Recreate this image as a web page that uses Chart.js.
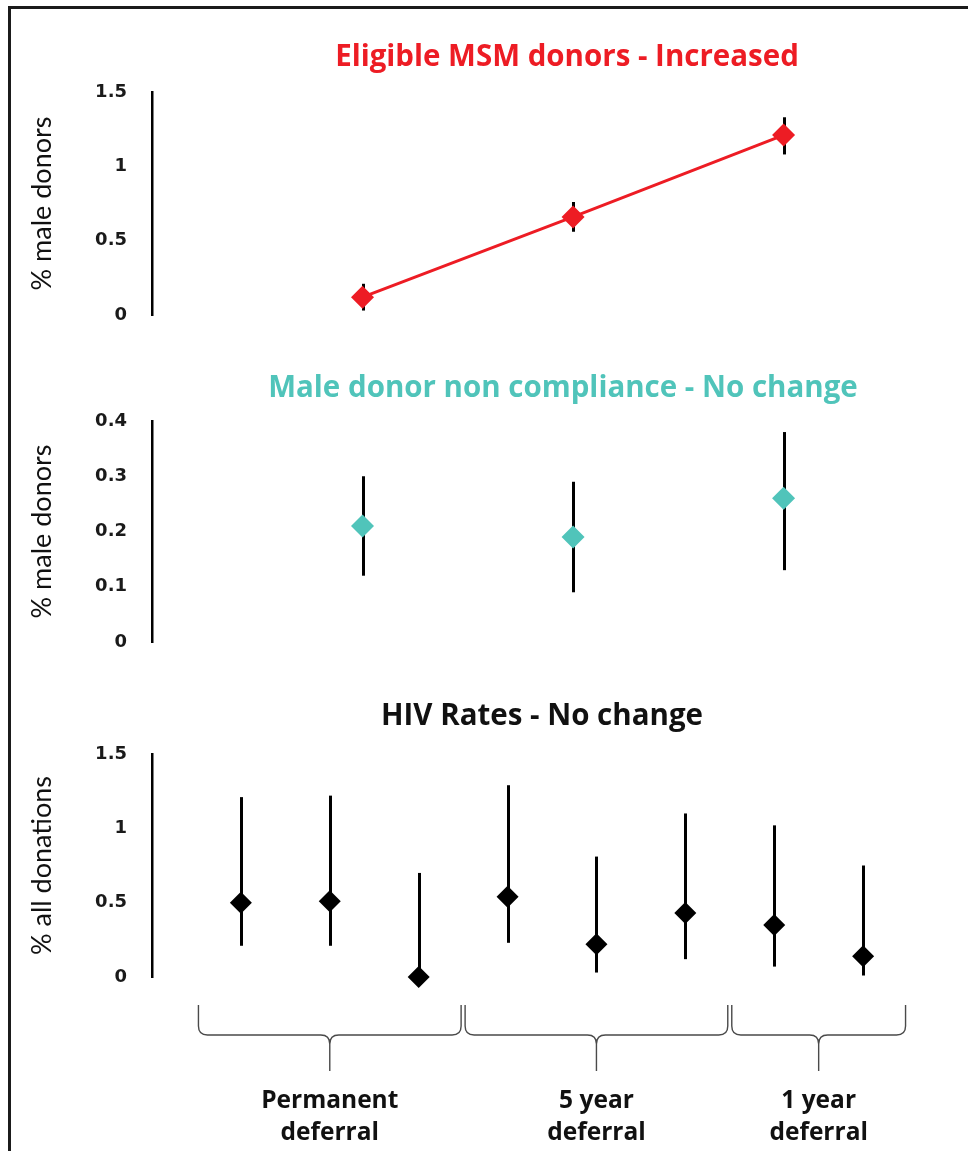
<!DOCTYPE html>
<html>
<head>
<meta charset="utf-8">
<script src="https://cdn.jsdelivr.net/npm/chart.js@4.4.1/dist/chart.umd.min.js"></script>
<style>
  html, body { margin: 0; padding: 0; background: #fff; }
  #wrap { position: relative; width: 968px; height: 1151px; overflow: hidden; background: #fff; }
  #frame { position: absolute; left: 8px; top: 6px; width: 980px; height: 1200px;
           border-left: 3px solid #1b1b1b; border-top: 3px solid #1b1b1b; }
  canvas { position: absolute; left: 0; }
</style>
</head>
<body>
<div id="wrap">
  <div id="frame"></div>
  <canvas id="msmChart" width="968" height="340" style="top:0px;width:968px;height:340px"></canvas>
  <canvas id="complianceChart" width="968" height="330" style="top:340px;width:968px;height:330px"></canvas>
  <canvas id="hivChart" width="968" height="481" style="top:670px;width:968px;height:481px"></canvas>
</div>
<script>
// Deferral periods (permanent, 5 year, 1 year) placed along the x axis
const periodPositions = [1, 2, 3];

// Eligible MSM donors (% of male donors)
const msmValues = [0.12, 0.66, 1.21];
const msmLow    = [0.03, 0.56, 1.08];
const msmHigh   = [0.21, 0.76, 1.33];

// Male donor non compliance (% of male donors)
const complianceValues = [0.21, 0.19, 0.26];
const complianceLow    = [0.12, 0.09, 0.13];
const complianceHigh   = [0.30, 0.29, 0.38];

// HIV rates per study (% of all donations)
const hivPositions = [1, 2, 3, 4, 5, 6, 7, 8];
const hivValues = [0.50, 0.51, 0.00, 0.54, 0.22, 0.43, 0.35, 0.14];
const hivLow    = [0.21, 0.21, 0.00, 0.23, 0.03, 0.12, 0.07, 0.01];
const hivHigh   = [1.21, 1.22, 0.70, 1.29, 0.81, 1.10, 1.02, 0.75];

// Deferral groups below the HIV panel: [first position, last position]
const groupRanges = [[1, 3], [4, 6], [7, 8]];
const groupLabels = [["Permanent", "deferral"], ["5 year", "deferral"], ["1 year", "deferral"]];

// Tick values
const msmTicks = [0, 0.5, 1, 1.5];
const complianceTicks = [0, 0.1, 0.2, 0.3, 0.4];
const hivTicks = [0, 0.5, 1, 1.5];

const RED = '#ED1C24';
const TEAL = '#50C4BA';
const INK = '#111111';

function points(xs, ys, lo, hi) {
  return xs.map((x, i) => ({ x: x, y: ys[i], yMin: lo[i], yMax: hi[i] }));
}

// Vertical error bars drawn beneath the markers
const errorBars = {
  id: 'errorBars',
  beforeDatasetsDraw(chart, args, opts) {
    const { ctx, scales: { x, y } } = chart;
    ctx.save();
    ctx.strokeStyle = opts.color || '#000';
    ctx.lineWidth = opts.width || 3;
    ctx.lineCap = 'butt';
    chart.data.datasets.forEach(ds => {
      ds.data.forEach(pt => {
        const px = Math.round(x.getPixelForValue(pt.x)) + 0.5;
        ctx.beginPath();
        ctx.moveTo(px, y.getPixelForValue(pt.yMax));
        ctx.lineTo(px, y.getPixelForValue(pt.yMin));
        ctx.stroke();
      });
    });
    ctx.restore();
  }
};

// Panel heading
const panelTitle = {
  id: 'panelTitle',
  afterDraw(chart, args, opts) {
    if (!opts.text) return;
    const ctx = chart.ctx;
    ctx.save();
    ctx.font = opts.font;
    ctx.fillStyle = opts.color;
    ctx.textAlign = 'center';
    ctx.textBaseline = 'middle';
    ctx.fillText(opts.text, opts.x, opts.y);
    ctx.restore();
  }
};

// Curly braces grouping the studies by deferral period
const groupBraces = {
  id: 'groupBraces',
  afterDraw(chart, args, opts) {
    if (!opts.ranges) return;
    const { ctx, chartArea, scales: { x } } = chart;
    const yTop = chartArea.bottom + opts.top;
    const yMid = chartArea.bottom + opts.mid;
    const yTip = chartArea.bottom + opts.tip;
    const r = 9;
    ctx.save();
    ctx.strokeStyle = opts.color;
    ctx.lineWidth = opts.width;
    opts.ranges.forEach(([a, b]) => {
      const xa = x.getPixelForValue(a - 0.5) + 2;
      const xb = x.getPixelForValue(b + 0.5) - 2;
      const xc = x.getPixelForValue((a + b) / 2);
      ctx.beginPath();
      ctx.moveTo(xa, yTop);
      ctx.lineTo(xa, yMid - r);
      ctx.quadraticCurveTo(xa, yMid, xa + r, yMid);
      ctx.lineTo(xc - r, yMid);
      ctx.quadraticCurveTo(xc, yMid, xc, yMid + r);
      ctx.lineTo(xc, yTip);
      ctx.moveTo(xb, yTop);
      ctx.lineTo(xb, yMid - r);
      ctx.quadraticCurveTo(xb, yMid, xb - r, yMid);
      ctx.lineTo(xc + r, yMid);
      ctx.quadraticCurveTo(xc, yMid, xc, yMid + r);
      ctx.stroke();
    });
    ctx.restore();
  }
};

function yAxis(title, ticks) {
  return {
    type: 'linear',
    min: ticks[0],
    max: ticks[ticks.length - 1],
    afterFit(axis) { axis.width = 152; },
    afterBuildTicks(axis) { axis.ticks = ticks.map(v => ({ value: v })); },
    ticks: {
      padding: 2,
      color: '#1a1a1a',
      font: { family: 'DejaVu Sans', weight: 'bold', size: 18 },
      callback: v => String(v)
    },
    grid: { display: false, drawTicks: true, tickLength: 23 },
    border: { display: true, color: '#000', width: 2.5 },
    title: {
      display: true,
      text: title,
      color: INK,
      font: { family: 'Lato', size: 27, lineHeight: 1.2 },
      padding: { top: 26, bottom: 0 }
    }
  };
}

function hiddenX(max) {
  return { type: 'linear', min: 0, max: max, display: false };
}

const common = {
  responsive: false,
  animation: false,
  events: [],
  plugins: { legend: { display: false }, tooltip: { enabled: false } }
};

const TITLE_FONT = 'bold 29.5px "Open Sans"';

// Panel 1: eligible MSM donors
new Chart(document.getElementById('msmChart'), {
  type: 'line',
  data: {
    datasets: [{
      data: points(periodPositions, msmValues, msmLow, msmHigh),
      borderColor: RED,
      borderWidth: 3,
      backgroundColor: RED,
      pointStyle: 'rectRot',
      pointRadius: 11.5,
      pointBorderWidth: 0,
      pointBackgroundColor: RED,
      showLine: true,
      tension: 0,
      clip: false
    }]
  },
  options: Object.assign({}, common, {
    layout: { padding: { top: 92, bottom: 25, left: 0, right: 16 } },
    scales: { x: hiddenX(3.8), y: yAxis('% male donors', msmTicks) },
    plugins: Object.assign({}, common.plugins, {
      errorBars: { color: '#000', width: 3 },
      panelTitle: { text: 'Eligible MSM donors - Increased', x: 567, y: 58, color: RED, font: TITLE_FONT }
    })
  }),
  plugins: [errorBars, panelTitle]
});

// Panel 2: male donor non compliance
new Chart(document.getElementById('complianceChart'), {
  type: 'scatter',
  data: {
    datasets: [{
      data: points(periodPositions, complianceValues, complianceLow, complianceHigh),
      pointStyle: 'rectRot',
      pointRadius: 11.5,
      pointBorderWidth: 0,
      pointBackgroundColor: TEAL,
      backgroundColor: TEAL,
      clip: false
    }]
  },
  options: Object.assign({}, common, {
    layout: { padding: { top: 81, bottom: 28, left: 0, right: 16 } },
    scales: { x: hiddenX(3.8), y: yAxis('% male donors', complianceTicks) },
    plugins: Object.assign({}, common.plugins, {
      errorBars: { color: '#000', width: 3 },
      panelTitle: { text: 'Male donor non compliance - No change', x: 563, y: 49, color: TEAL, font: TITLE_FONT }
    })
  }),
  plugins: [errorBars, panelTitle]
});

// Panel 3: HIV rates, grouped by deferral period
new Chart(document.getElementById('hivChart'), {
  type: 'scatter',
  data: {
    datasets: [{
      data: points(hivPositions, hivValues, hivLow, hivHigh),
      pointStyle: 'rectRot',
      pointRadius: 11,
      pointBorderWidth: 0,
      pointBackgroundColor: '#000',
      backgroundColor: '#000',
      clip: false
    }]
  },
  options: Object.assign({}, common, {
    layout: { padding: { top: 84, bottom: 0, left: 0, right: 16 } },
    scales: {
      x: {
        type: 'linear',
        min: 0,
        max: 9,
        afterFit(axis) { axis.height = 174; },
        afterBuildTicks(axis) {
          axis.ticks = groupRanges.map(([a, b]) => ({ value: (a + b) / 2 }));
        },
        ticks: {
          autoSkip: false,
          maxRotation: 0,
          padding: 0,
          color: INK,
          font: { family: 'Open Sans', weight: 'bold', size: 24.5, lineHeight: 1.306 },
          callback: (value, index) => groupLabels[index]
        },
        grid: { display: false, drawTicks: true, tickLength: 108 },
        border: { display: false }
      },
      y: yAxis('% all donations', hivTicks)
    },
    plugins: Object.assign({}, common.plugins, {
      errorBars: { color: '#000', width: 3 },
      panelTitle: { text: 'HIV Rates - No change', x: 542, y: 47, color: INK, font: TITLE_FONT },
      groupBraces: { ranges: groupRanges, top: 28, mid: 58, tip: 94, color: '#4a4a4a', width: 1.4 }
    })
  }),
  plugins: [errorBars, panelTitle, groupBraces]
});
</script>
</body>
</html>
